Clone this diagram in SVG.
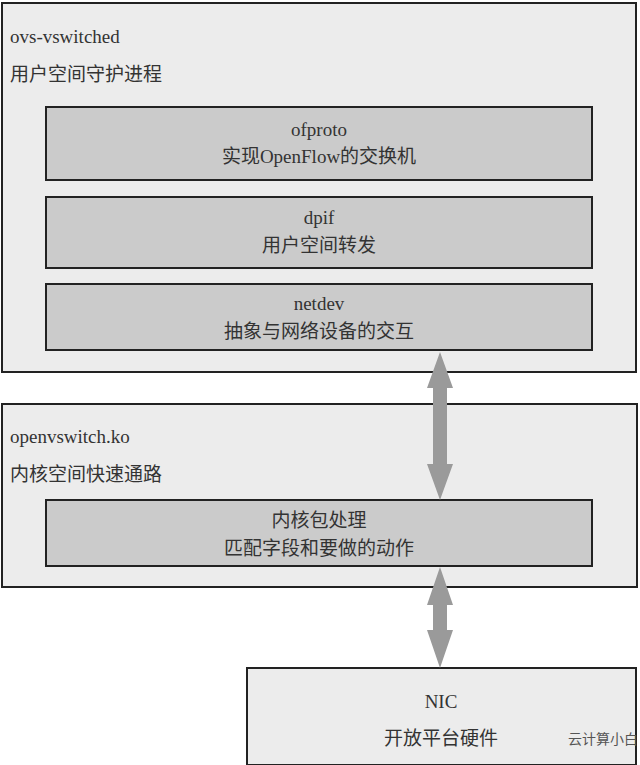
<svg xmlns="http://www.w3.org/2000/svg" width="640" height="765" viewBox="0 0 640 765">
<style>
.outer{fill:#ececec;stroke:#222;stroke-width:2}
.inner{fill:#cbcbcb;stroke:#222;stroke-width:2}
text{font-family:"Liberation Serif","Noto Sans CJK SC",serif;font-size:19px;fill:#333}
.c{text-anchor:middle}
.arr{fill:#9a9a9a}
</style>
<rect width="640" height="765" fill="#fff"/>
<g id="ovs-vswitched">
<rect class="outer" x="2" y="3" width="634" height="369"/>
<text x="10" y="43">ovs-vswitched</text>
<text x="10" y="81">用户空间守护进程</text>
</g>
<g id="ofproto"><rect class="inner" x="46" y="107" width="546" height="73"/>
<text class="c" x="319" y="136">ofproto</text><text class="c" x="319" y="163">实现OpenFlow的交换机</text></g>
<g id="dpif"><rect class="inner" x="46" y="197" width="546" height="71"/>
<text class="c" x="319" y="224">dpif</text><text class="c" x="319" y="252">用户空间转发</text></g>
<g id="netdev"><rect class="inner" x="46" y="284" width="546" height="66"/>
<text class="c" x="319" y="310">netdev</text><text class="c" x="319" y="338">抽象与网络设备的交互</text></g>
<g id="openvswitch">
<rect class="outer" x="2" y="404" width="635" height="183"/>
<text x="10" y="443">openvswitch.ko</text>
<text x="10" y="481">内核空间快速通路</text>
</g>
<g id="kernel"><rect class="inner" x="46" y="500" width="546" height="66"/>
<text class="c" x="319" y="527">内核包处理</text><text class="c" x="319" y="555">匹配字段和要做的动作</text></g>
<g id="nic"><rect class="outer" x="247" y="668" width="389" height="97"/>
<text class="c" x="441" y="708">NIC</text><text class="c" x="441" y="745">开放平台硬件</text></g>
<text x="568" y="744" style="font-family:'Noto Sans CJK SC',sans-serif;font-size:14px;fill:#555">云计算小白</text>
<g id="connectors">
<polygon class="arr" points="440,352 453,388 447,388 447,464 453,464 440,500 427,464 433,464 433,388 427,388"/>
<polygon class="arr" points="440,567 453,605 447,605 447,630 453,630 440,668 427,630 433,630 433,605 427,605"/>
</g>
</svg>
